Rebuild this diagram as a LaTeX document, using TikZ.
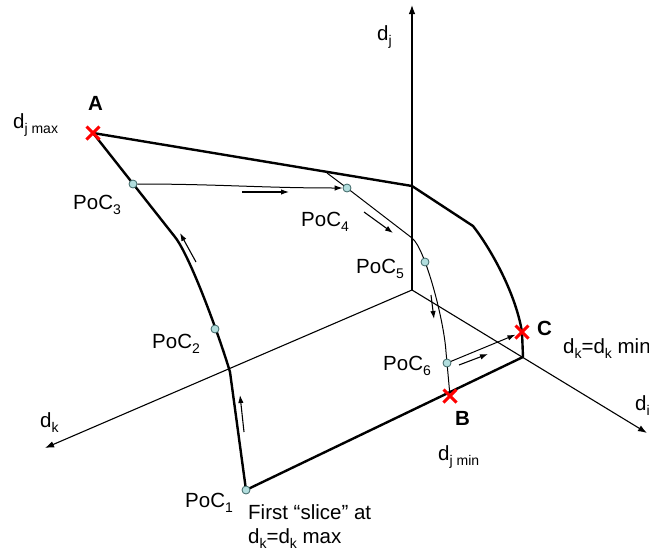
\documentclass[tikz,border=0pt]{standalone}
\usepackage{fontspec}
\setmainfont{Liberation Sans}
\usetikzlibrary{arrows.meta,shapes.misc}
\definecolor{pocfill}{RGB}{178,222,222}
\definecolor{pocline}{RGB}{60,100,100}
\newcommand\sbx[1]{\raisebox{-5pt}{\fontsize{14}{14}\selectfont #1}}
\begin{document}
\begin{tikzpicture}[x=1pt,y=-1pt,
  lbl/.style={anchor=base west, inner sep=0pt, font=\fontsize{20.5}{24}\selectfont},
  blbl/.style={anchor=base west, inner sep=0pt, font=\fontsize{20.5}{24}\selectfont\bfseries},
  rim/.style={line width=2.4pt, line join=round},
  axisline/.style={line width=1.1pt, -{Latex[length=9pt,width=6.5pt]}},
  thinline/.style={line width=1pt},
  dirarrow/.style={line width=1.1pt, -{Latex[length=8pt,width=5.5pt]}},
  poc/.style={circle, inner sep=0pt, minimum size=8pt, fill=pocfill, draw=pocline, line width=0.8pt},
  xm/.style={cross out, draw=red, line width=3pt, minimum size=10pt, inner sep=0pt}
]
\useasboundingbox (0,0) rectangle (649,552);

% axes
\coordinate (O) at (412,290);
\coordinate (jtip) at (412,5);
\coordinate (ktip) at (45,448);
\coordinate (itip) at (647,433);
\draw[axisline] (O) -- (jtip);
\draw[axisline] (O) -- (ktip);
\draw[axisline] (O) -- (itip);

% surface corners
\coordinate (A) at (93,133);
\coordinate (T) at (412,186);
\coordinate (R) at (473,226);
\coordinate (C) at (522,332);
\coordinate (K) at (523,357);
\coordinate (B) at (450,396);
\coordinate (p1) at (246,490);
\coordinate (Q) at (230,372);
\coordinate (L) at (175,237);
\coordinate (p2) at (215,329);
\coordinate (p3) at (133,184);
\coordinate (S) at (327,173);
\coordinate (p4) at (347,188);
\coordinate (M) at (412,238);
\coordinate (p5) at (425,262);
\coordinate (N) at (446,352);
\coordinate (p6) at (447,363);

% surface outline
\draw[rim] (A) -- (T) -- (R) .. controls (488,245) and (515,290) .. (C) -- (K) -- (p1) -- (Q)
  .. controls (219,335) and (190,256) .. (L) -- cycle;

% inner curve
\draw[thinline] (S) -- (p4) -- (M) .. controls (425,248) and (444,320) .. (N) -- (p6) -- (B);

% dots
\node[poc] (d1) at (p1) {};
\node[poc] (d2) at (p2) {};
\node[poc] (d3) at (p3) {};
\node[poc] (d4) at (p4) {};
\node[poc] (d5) at (p5) {};
\node[poc] (d6) at (p6) {};

% x marks
\node[xm] (xA) at (A) {};
\node[xm] (xB) at (B) {};
\node[xm] (xC) at (C) {};

% connectors
\draw[thinline, -{Latex[length=8pt,width=5.5pt]}] (d3) to[out=0, in=180] (d4);
\draw[thinline, -{Latex[length=8pt,width=5.5pt]}] (d6) -- (xC);

% direction arrows
\draw[dirarrow] (196,262) -- (180,233);
\draw[dirarrow] (244,432) -- (240,395);
\draw[dirarrow] (242,192) -- (289,192);
\draw[dirarrow] (364,212) -- (393,233);
\draw[dirarrow] (431,295) -- (434,319);
\draw[dirarrow] (459,365) -- (488,354);

% labels
\node[blbl] (lA) at (88,110) {A};
\node[blbl] (lB) at (455,425) {B};
\node[blbl] (lC) at (537,335) {C};
\node[lbl] (ljmax) at (13,128) {d\sbx{j max}};
\node[lbl] (ljmin) at (438,460) {d\sbx{j min}};
\node[lbl] (lkmin) at (563,353) {d\sbx{k}=d\sbx{k} min};
\node[lbl] (lkmax) at (248,543) {d\sbx{k}=d\sbx{k} max};
\node[lbl] (lslice) at (248,519) {First “slice” at};
\node[lbl] (lP1) at (185,507) {PoC\sbx{1}};
\node[lbl] (lP2) at (152,348) {PoC\sbx{2}};
\node[lbl] (lP3) at (73,209) {PoC\sbx{3}};
\node[lbl] (lP4) at (301,226) {PoC\sbx{4}};
\node[lbl] (lP5) at (356,273) {PoC\sbx{5}};
\node[lbl] (lP6) at (383,370) {PoC\sbx{6}};
\node[lbl] (ldj) at (377,40) {d\sbx{j}};
\node[lbl] (ldk) at (40,427) {d\sbx{k}};
\node[lbl] (ldi) at (635,410) {d\sbx{i}};
\end{tikzpicture}
\end{document}
